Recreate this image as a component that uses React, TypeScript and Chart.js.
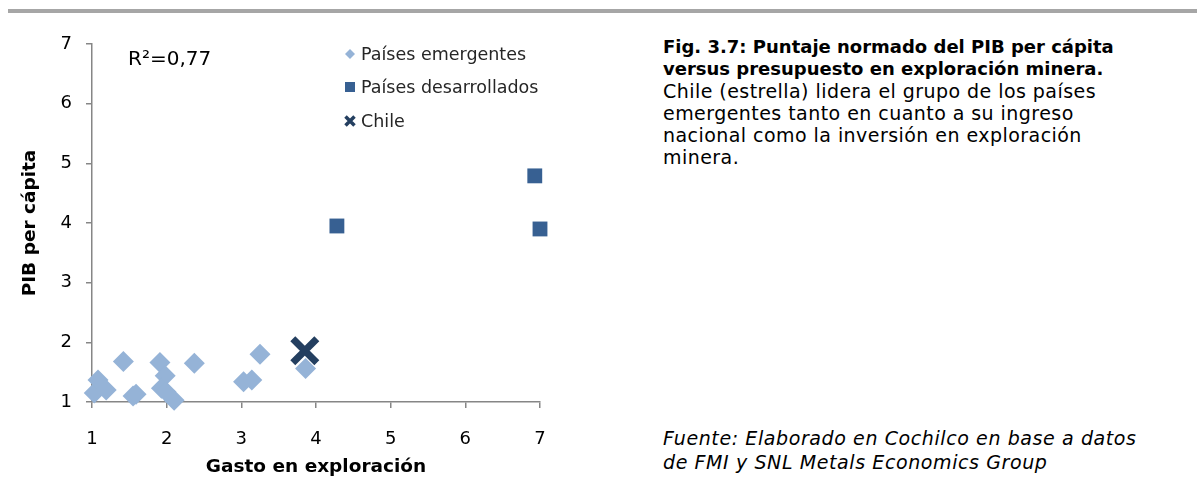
import React, { useEffect, useRef } from "react";
import { Chart, registerables } from "chart.js";

Chart.register(...registerables);

const FONT = "'DejaVu Sans', sans-serif";

const emergingX = [1.03, 1.08, 1.19, 1.42, 1.55, 1.59, 1.91, 1.98, 1.93, 1.99, 2.1, 2.37, 3.03, 3.14, 3.25, 3.86];
const emergingY = [1.15, 1.37, 1.2, 1.68, 1.1, 1.13, 1.66, 1.44, 1.23, 1.17, 1.03, 1.65, 1.34, 1.37, 1.8, 1.56];
const developedX = [4.28, 6.93, 7.0];
const developedY = [3.95, 4.79, 3.9];
const chileX = [3.85];
const chileY = [1.86];

const seriesNames = ["Países emergentes", "Países desarrollados", "Chile"];
const r2Label = "R²=0,77";
const xTitle = "Gasto en exploración";
const yTitle = "PIB per cápita";
const axisMin = 1;
const axisMax = 7;

const C_EMERGING = "#95B3D7";
const C_DEVELOPED = "#376092";
const C_CHILE = "#243F60";
const AXIS = "#868686";

const toPts = (xs: number[], ys: number[]) => xs.map((x, i) => ({ x, y: ys[i] }));

const overlayPlugin = {
  id: "overlay",
  afterDraw(chart: any) {
    const ctx = chart.ctx as CanvasRenderingContext2D;
    const { left, top } = chart.chartArea;
    ctx.save();
    // R² label
    ctx.fillStyle = "#000";
    ctx.font = `20px ${FONT}`;
    ctx.textBaseline = "middle";
    ctx.textAlign = "left";
    ctx.fillText(r2Label, left + 36, top + 16);

    // legend
    const lx = left + 258;
    const rows = [top + 10, top + 43, top + 77];
    ctx.font = `17.5px ${FONT}`;
    ctx.fillStyle = "#262626";
    seriesNames.forEach((name, i) => {
      const cy = rows[i];
      ctx.save();
      if (i === 0) {
        ctx.fillStyle = C_EMERGING;
        ctx.beginPath();
        ctx.moveTo(lx, cy - 5);
        ctx.lineTo(lx + 5, cy);
        ctx.lineTo(lx, cy + 5);
        ctx.lineTo(lx - 5, cy);
        ctx.closePath();
        ctx.fill();
      } else if (i === 1) {
        ctx.fillStyle = C_DEVELOPED;
        ctx.fillRect(lx - 5, cy - 5, 10, 10);
      } else {
        ctx.strokeStyle = C_CHILE;
        ctx.lineWidth = 3.5;
        ctx.beginPath();
        ctx.moveTo(lx - 4.5, cy - 4.5);
        ctx.lineTo(lx + 4.5, cy + 4.5);
        ctx.moveTo(lx + 4.5, cy - 4.5);
        ctx.lineTo(lx - 4.5, cy + 4.5);
        ctx.stroke();
      }
      ctx.restore();
      ctx.fillText(name, lx + 11, cy + 1);
    });
    ctx.restore();
  },
};

function ScatterChart() {
  const ref = useRef<HTMLCanvasElement | null>(null);
  useEffect(() => {
    if (!ref.current) return;
    const chart = new Chart(ref.current, {
      type: "scatter",
      data: {
        datasets: [
          {
            label: seriesNames[0],
            data: toPts(emergingX, emergingY),
            pointStyle: "rectRot",
            pointRadius: 10.5,
            backgroundColor: C_EMERGING,
            borderColor: C_EMERGING,
            borderWidth: 0,
            order: 2,
          },
          {
            label: seriesNames[1],
            data: toPts(developedX, developedY),
            pointStyle: "rect",
            pointRadius: 10.5,
            backgroundColor: C_DEVELOPED,
            borderColor: C_DEVELOPED,
            borderWidth: 0,
            order: 1,
          },
          {
            label: seriesNames[2],
            data: toPts(chileX, chileY),
            pointStyle: "crossRot",
            pointRadius: 17,
            backgroundColor: C_CHILE,
            borderColor: C_CHILE,
            borderWidth: 7,
            order: 0,
          },
        ],
      },
      options: {
        animation: false,
        responsive: false,
        clip: false,
        layout: { padding: { left: 0, top: 44, right: 60, bottom: 0 } },
        plugins: {
          legend: { display: false },
          tooltip: { enabled: false },
        },
        scales: {
          x: {
            type: "linear",
            min: axisMin,
            max: axisMax,
            ticks: {
              stepSize: 1,
              color: "#000",
              font: { family: FONT, size: 18 },
              padding: 21,
            },
            grid: {
              display: true,
              drawOnChartArea: false,
              drawTicks: true,
              tickLength: 6,
              color: AXIS,
              tickColor: AXIS,
              lineWidth: 1.5,
            },
            border: { color: AXIS, width: 1.5 },
            title: {
              display: true,
              text: xTitle,
              color: "#000",
              font: { family: FONT, size: 18.5, weight: "bold" },
              padding: { top: 0, bottom: 18 },
            },
            afterFit: (s: any) => {
              s.height = 94;
            },
          },
          y: {
            type: "linear",
            min: axisMin,
            max: axisMax,
            ticks: {
              stepSize: 1,
              color: "#000",
              font: { family: FONT, size: 18 },
              padding: 14,
            },
            grid: {
              display: true,
              drawOnChartArea: false,
              drawTicks: true,
              tickLength: 6,
              color: AXIS,
              tickColor: AXIS,
              lineWidth: 1.5,
            },
            border: { color: AXIS, width: 1.5 },
            title: {
              display: true,
              text: yTitle,
              color: "#000",
              font: { family: FONT, size: 18.5, weight: "bold" },
              padding: { top: 19, bottom: 0 },
            },
            afterFit: (s: any) => {
              s.width = 92;
            },
          },
        },
      },
      plugins: [overlayPlugin],
    } as any);
    return () => chart.destroy();
  }, []);
  return <canvas ref={ref} width={600} height={496} style={{ position: "absolute", left: 0, top: 0 }} />;
}

export default function App() {
  return (
    <div
      style={{
        position: "absolute",
        left: 0,
        top: 0,
        width: 1197,
        height: 496,
        background: "#fff",
        overflow: "hidden",
        fontFamily: FONT,
      }}
    >
      <div style={{ position: "absolute", left: 8, top: 9, width: 1189, height: 4, background: "#A6A6A6" }} />
      <ScatterChart />
      <div
        style={{
          position: "absolute",
          left: 663,
          top: 36,
          width: 530,
          fontSize: 19,
          lineHeight: "22px",
          color: "#000",
          whiteSpace: "nowrap",
        }}
      >
        <div style={{ fontWeight: "bold", fontSize: 18 }}>Fig. 3.7: Puntaje normado del PIB per cápita</div>
        <div style={{ fontWeight: "bold", fontSize: 18 }}>versus presupuesto en exploración minera.</div>
        <div style={{ letterSpacing: "0.45px" }}>Chile (estrella) lidera el grupo de los países</div>
        <div style={{ letterSpacing: "0.45px" }}>emergentes tanto en cuanto a su ingreso</div>
        <div style={{ letterSpacing: "0.45px" }}>nacional como la inversión en exploración</div>
        <div style={{ letterSpacing: "0.45px" }}>minera.</div>
      </div>
      <div
        style={{
          position: "absolute",
          left: 663,
          top: 426,
          width: 534,
          fontSize: 19,
          lineHeight: "24px",
          fontStyle: "italic",
          letterSpacing: "0.6px",
          color: "#000",
          whiteSpace: "nowrap",
        }}
      >
        <div>Fuente: Elaborado en Cochilco en base a datos</div>
        <div>de FMI y SNL Metals Economics Group</div>
      </div>
    </div>
  );
}
